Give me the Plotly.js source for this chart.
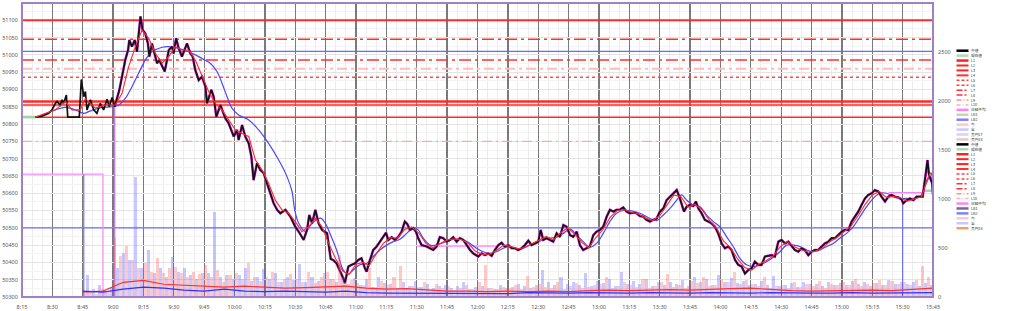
<!DOCTYPE html>
<html><head><meta charset="utf-8">
<script src="https://cdn.plot.ly/plotly-3.0.1.min.js"></script>
<style>html,body{margin:0;padding:0;background:#fff}#chart{width:1024px;height:311px}</style>
</head><body><div id="chart"></div>
<script>
// ---------- DATA ----------
const tickLabels = ["8:15","8:30","8:45","9:00","9:15","9:30","9:45","10:00","10:15","10:30","10:45","11:00","11:15","11:30","11:45","12:00","12:15","12:30","12:45","13:00","13:15","13:30","13:45","14:00","14:15","14:30","14:45","15:00","15:15","15:30","15:45"];
const priceTicks = [50300,50350,50400,50450,50500,50550,50600,50650,50700,50750,50800,50850,50900,50950,51000,51050,51100,51150];
const volumeTicks = [0,500,1000,1500,2000,2500,3000];

// minutes after 8:15
const priceMin = [6.6,9.9,13.2,14.8,16.5,17.3,18.9,19.8,20.6,21.4,21.9,22.6,28.3,29.3,30.5,31.3,32.1,33.8,35.4,37.0,38.7,40.3,42.0,43.1,44.5,45.8,46.9,48.1,49.4,50.2,51.0,52.4,53.0,54.3,55.7,56.8,57.6,58.5,59.6,60.9,62.2,62.9,64.2,65.5,66.7,67.8,69.2,70.5,71.6,72.5,74.1,74.9,76.1,77.4,79.0,81.5,83.2,84.3,85.6,87.3,88.9,90.6,91.4,93.5,94.7,96.0,98.0,98.8,100.4,102.1,104.6,106.2,107.0,108.7,110.3,112.0,113.3,114.4,116.1,117.7,119.4,121.0,122.7,124.3,126.0,127.6,130.1,132.6,135.0,136.7,139.1,140.8,141.9,143.3,144.9,146.5,148.2,150.7,152.5,153.7,155.4,157.0,158.7,159.5,160.3,161.2,162.8,164.4,166.1,167.7,169.4,170.2,171.9,173.5,175.2,176.8,178.4,179.8,180.9,182.6,184.2,185.9,187.5,189.1,190.3,191.6,193.3,194.6,195.7,197.4,199.9,201.5,203.1,204.8,206.4,208.1,209.7,211.4,213.0,214.7,216.3,218.0,219.6,221.3,222.9,225.4,227.0,228.7,230.3,232.0,233.6,235.3,236.9,238.5,240.2,241.8,243.5,245.1,246.8,248.4,250.1,251.7,253.4,255.0,256.2,257.5,259.1,260.8,262.4,264.1,265.7,267.4,269.0,270.7,272.3,274.0,275.6,277.2,278.9,280.5,282.2,283.8,285.5,287.1,288.8,290.4,292.1,293.7,295.4,297.0,298.6,300.3,301.9,303.6,305.2,306.9,308.5,310.2,311.8,313.5,315.1,316.8,318.4,320.1,321.7,323.4,324.7,325.8,327.0,328.3,329.9,331.6,332.9,334.1,335.7,337.3,339.0,340.6,342.3,343.9,345.6,347.2,348.9,350.5,352.2,353.8,355.5,357.1,358.8,360.4,362.0,363.7,365.3,367.0,368.6,370.3,371.9,373.6,375.2,376.9,378.5,380.2,381.8,383.5,385.1,386.7,388.4,390.0,391.7,393.3,395.0,396.6,398.3,399.9,401.6,403.2,404.9,406.5,408.2,409.8,411.4,413.1,414.7,416.4,418.0,419.7,421.3,423.0,424.6,426.3,427.9,429.6,431.2,432.9,434.5,435.3,437.0,438.6,440.3,441.9,443.6,444.9,446.0,447.3,448.0,448.8,449.6,450];
const priceVal = [50820,50823,50831,50841,50860,50865,50855,50870,50860,50872,50884,50820,50820,50929,50879,50894,50841,50870,50841,50831,50860,50841,50872,50850,50877,50850,50874,50899,50937,50961,50985,51014,51043,51024,51043,51009,51058,51111,51072,51062,51033,50995,51033,51005,50976,50985,50966,50952,50985,51014,51024,51004,51048,51019,50995,51033,51004,50995,50956,50927,50937,50908,50860,50899,50879,50821,50855,50841,50817,50802,50764,50783,50754,50797,50764,50744,50706,50638,50687,50667,50658,50629,50600,50571,50552,50542,50552,50532,50503,50489,50465,50494,50537,50513,50552,50513,50494,50484,50410,50407,50397,50378,50354,50340,50359,50388,50393,50397,50407,50412,50383,50373,50407,50436,50446,50460,50474,50486,50465,50473,50465,50474,50489,50518,50511,50494,50499,50489,50470,50450,50446,50441,50436,50446,50473,50470,50460,50465,50473,50460,50470,50465,50450,50436,50426,50417,50426,50421,50426,50419,50436,50450,50457,50446,50450,50441,50441,50436,50441,50450,50463,50450,50455,50460,50494,50465,50470,50465,50460,50484,50474,50508,50503,50479,50474,50489,50450,50436,50441,50446,50479,50489,50494,50503,50532,50552,50547,50552,50553,50559,50547,50542,50544,50542,50534,50532,50523,50518,50523,50527,50547,50556,50580,50590,50600,50609,50590,50571,50547,50561,50566,50563,50576,50556,50542,50523,50518,50513,50503,50484,50455,50441,50446,50436,50407,50393,50388,50368,50378,50383,50402,50393,50393,50417,50419,50421,50417,50460,50465,50455,50460,50446,50436,50431,50441,50436,50421,50431,50436,50436,50446,50455,50460,50470,50470,50479,50489,50494,50494,50518,50532,50547,50566,50585,50595,50600,50609,50605,50590,50576,50590,50595,50590,50588,50582,50571,50580,50585,50580,50590,50590,50590,50638,50696,50653,50643,50629,50595];

// short moving average (red)
const maShortMin = [6.6,16.5,21.4,24.7,28.8,31.3,36.2,41.2,46.1,49.4,52.7,56.0,59.3,62.6,65.9,69.2,72.5,75.7,79.0,82.3,85.6,88.9,92.2,95.5,98.8,102.1,105.4,108.7,112.0,115.3,118.6,121.8,125.1,128.4,131.7,135.0,138.3,141.6,144.9,148.2,151.5,155,158.5,161.5,165,168.5,171.5,175,178.5,182,185.5,189,192.5,196,199.5,203,206.5,210,213.5,217,220.5,224,227.5,231,234.5,238,241.5,245,248.5,252,255.5,259,262.5,266,269.5,273,276.5,280,283.5,287,290.5,294,297.5,301,304.5,308,311.5,315,318.5,322,325.5,329,332.5,336,339.5,343,346.5,350,353.5,357,360.5,364,367.5,371,374.5,378,381.5,385,388.5,392,395.5,399,402.5,406,409.5,413,416.5,420,423.5,427,430.5,434,437.5,441,444.5,447,449,450];
const maShortVal = [50820,50841,50865,50841,50841,50874,50846,50855,50855,50889,50966,51024,51072,51048,51004,50976,50995,51024,51014,51014,50985,50937,50894,50860,50841,50812,50783,50773,50764,50696,50667,50629,50580,50552,50542,50518,50489,50503,50528,50503,50455,50410,50375,50365,50395,50400,50390,50425,50455,50472,50470,50495,50503,50485,50455,50442,50455,50465,50468,50466,50455,50432,50423,50424,50435,50450,50446,50439,50444,50455,50465,50475,50465,50485,50500,50482,50458,50442,50472,50495,50530,50550,50553,50545,50540,50528,50521,50535,50565,50595,50590,50560,50568,50552,50522,50500,50462,50442,50410,50385,50378,50395,50405,50418,50445,50460,50445,50436,50430,50433,50442,50460,50472,50488,50505,50535,50568,50595,50605,50588,50591,50586,50577,50584,50590,50640,50660,50640];

// long moving average (blue)
const maLongMin = [8.2,16.5,21.4,26.3,30.5,32.9,35.4,39.5,44.5,47.8,51.0,54.3,57.6,60.9,64.2,69.2,72.5,77.4,82.3,87.3,89.7,93.0,96.3,98.8,101.3,103.7,107.0,112.0,116.9,121.8,126.8,130.9,133.4,134.7,136.7,140.0,143.3,147.4,149.8,152.8,155.4,158.7,161.2,163.6,166.9,170.2,173.5,176.8,180.1,183.4,186.7,190.0,193.3,195.7,198.2,201.5,204.8,208.1,211.4,214.7,218.0,221.3,224.5,227.8,231.1,234.4,237.7,241.0,244.3,247.6,250.9,254.2,257.5,260.8,264.1,267.4,270.7,274.0,277.2,280.5,283.8,287.1,290.4,293.7,297.0,300.3,305.2,310.2,313.5,316.8,320.1,323.4,325.8,328.3,331.6,334.9,338.2,341.5,344.8,348.1,351.3,354.6,357.9,361.2,364.5,367.8,371.1,374.4,377.7,381.0,384.3,387.6,390.9,394.2,397.5,400.7,404.0,407.3,410.6,413.9,417.2,420.5,423.8,427.1,430.4,433.7,437.0,440.3,443.6,446.0,448.5,450];
const maLongVal = [50821,50841,50848,50841,50831,50836,50841,50848,50850,50855,50874,50908,50947,50985,51009,51022,51024,51019,51009,50995,50987,50976,50952,50918,50879,50846,50826,50812,50783,50744,50696,50648,50605,50552,50513,50489,50513,50528,50513,50474,50436,50378,50366,50378,50393,50397,50417,50436,50450,50460,50467,50484,50501,50494,50470,50450,50450,50457,50465,50467,50465,50455,50441,50431,50426,50431,50441,50446,50441,50441,50450,50455,50467,50470,50473,50484,50496,50479,50460,50444,50455,50484,50518,50542,50550,50550,50542,50527,50521,50537,50556,50580,50595,50580,50566,50561,50537,50518,50503,50474,50446,50412,50393,50388,50393,50402,50415,50431,50450,50450,50446,50436,50431,50436,50446,50455,50470,50484,50503,50532,50561,50585,50600,50600,50590,50585,50585,50585,50590,50619,50648,50633];

// horizontal levels
const levelNames = ["L1","L2","L3","L4","L5","L7","L8","L9","L10"];
const levelValues = [51100,50865,50855,50820,50935,51045,50985,50960,50750];
const bandValues = [51010,50500];

// other series segments (minutes, value)
const nikkeiLeadMin = [0,40,40];       const nikkeiLeadVal = [50655,50655,0];
const lbMarkMin = [30.5,30.5,null,435,435]; const lbMarkVal = [50655,0,null,50580,0];
const nowMin = [195.3,234.5,null,428,445.2]; const nowVal = [50447,50447,null,50602,50602];
const currentMin = [0,6.6,null,445,450];     const currentVal = [50820,50820,null,50607,50607];
const nikkeiStartMin = 45.3;

// volume (every 3 minutes from 8:45)
const volStartMin = 30, volStepMin = 3;
const volSell = [40,60,30,80,50, 600,420,520,380,300, 350,260,400,250,300, 310,250,200,260,230, 330,200,280,150,220, 250,180,350,200,160, 200,260,150,180,230, 180,150,260,140,200, 260,180,430,150,170, 140,120,300,100,160, 120,200,320,90,110, 100,150,80,130,90, 110,70,90,120,80, 150,330,90,80,100, 90,120,80,210,100, 130,100,90,150,80, 110,140,90,100,120, 130,200,90,110,150, 120,100,180,90,110, 150,230,100,120,90, 160,140,200,110,120, 180,150,260,130,170, 130,110,200,90,110, 120,90,150,100,130, 110,160,90,130,120, 150,120,180,110,130, 140,170,120,160,130, 150,120,170,320,200];
const volBuy = [220,80,120,60,90, 300,450,380,1224,300, 480,250,300,200,410, 260,300,220,180,240, 250,870,200,220,180, 220,300,160,200,290, 180,240,150,200,170, 340,150,200,160,240, 180,150,200,130,190, 120,180,100,200,140, 130,90,150,110,160, 100,130,90,110,120, 90,110,150,80,100, 110,90,80,120,90, 100,130,110,90,120, 280,150,120,200,130, 150,120,250,110,160, 140,180,110,260,130, 160,130,180,110,150, 120,150,130,170,110, 200,150,180,120,220, 150,190,140,160,120, 130,160,120,210,110, 120,140,100,150,130, 130,110,150,120,140, 120,160,130,150,110, 140,120,170,130,150, 130,150,110,140,120];
const volMaMin = [30,40,50,60,70,80,90,100,110,120,130,140,150,160,170,180,190,200,210,220,230,240,250,260,270,280,290,300,310,320,330,340,350,360,370,380,390,400,410,420,430,440,450];
const volMaSell = [50,60,150,170,130,120,110,100,110,100,90,95,100,110,90,80,85,70,60,60,55,60,55,60,55,65,70,65,70,75,70,80,85,90,75,65,60,65,70,70,65,75,90];
const volMaBuy = [60,50,80,100,90,70,60,80,60,55,60,55,50,60,45,40,40,35,35,40,35,35,45,40,40,45,40,40,45,40,40,45,40,40,45,40,40,40,45,40,40,40,45];

// legend
const legendNames = ["中値","現在値","L1","L2","L3","L4","L5","L6","L7","L8","L9","L10","日経平均","LB1","LB2","今","全","売円17","売円18",
                     "中値","現在値","L1","L2","L3","L4","L5","L6","L7","L8","L9","L10","日経平均","LB1","LB2","今","全","売円18"];

// ---------- STYLE ----------
const LEFT=22, RIGHT=933, TOP=3, BOTTOM=297, W=1024, H=311;
const levelStyle = {
  L1:{color:"#ff2a2a",width:2,dash:"solid"},
  L2:{color:"#ff2a2a",width:2.5,dash:"solid"},
  L3:{color:"#ff2a2a",width:1.5,dash:"solid"},
  L4:{color:"#ff2a2a",width:1.5,dash:"solid"},
  L5:{color:"#ff4a4a",width:1.5,dash:"3px,3px"},
  L7:{color:"#ff3030",width:1.5,dash:"12px,4px,3px,4px"},
  L8:{color:"#ff3030",width:1.5,dash:"12px,4px,3px,4px"},
  L9:{color:"#ffbcbc",width:2,dash:"10px,4px,3px,4px"},
  L10:{color:"#ffa8a8",width:1.2,dash:"10px,4px,2px,4px"}
};
const legendStyle = {
  "中値":["#000000",2.5,"solid"],"現在値":["#a8dcb8",2.5,"solid"],
  "L1":["#ff2020",2.5,"solid"],"L2":["#ff2020",2,"solid"],"L3":["#ff2020",2,"solid"],"L4":["#ff3030",2,"solid"],
  "L5":["#ff4040",1.5,"3px,2px"],"L6":["#ff4040",1.5,"3px,2px"],"L7":["#ff3030",1.5,"6px,2px,2px,2px"],"L8":["#ff3030",1.5,"6px,2px,2px,2px"],
  "L9":["#ff9090",1.5,"5px,2px,1px,2px"],"L10":["#ffb0b0",1.5,"4px,2px,1px,2px"],"日経平均":["#ff80ff",2.5,"solid"],
  "LB1":["#c0d8b0",2.5,"solid"],"LB2":["#8080ff",2.5,"solid"],"今":["#ffc8c8",2.5,"solid"],"全":["#c8c8ff",2.5,"solid"],
  "売円17":["#d4d4f0",2.5,"solid"],"売円18":["#e6c8c8",2.5,"solid"]
};

// ---------- BUILD ----------
const traces = [];
const full = [0,450];
levelNames.forEach((n,i)=>{
  traces.push({x:full,y:[levelValues[i],levelValues[i]],mode:"lines",line:levelStyle[n],hoverinfo:"skip",showlegend:false});
});
bandValues.forEach((v)=>{
  traces.push({x:full,y:[v,v],mode:"lines",line:{color:"#6a6aff",width:1.2},hoverinfo:"skip",showlegend:false});
});

// volume bars (right axis)
const volX = volSell.map((_,i)=>volStartMin+i*volStepMin);
traces.push({type:"bar",x:volX.map(v=>v+0.75),y:volSell,yaxis:"y2",marker:{color:"rgba(255,90,90,0.33)",line:{width:0}},width:1.5,hoverinfo:"skip",showlegend:false});
traces.push({type:"bar",x:volX.map(v=>v+2.25),y:volBuy,yaxis:"y2",marker:{color:"rgba(90,90,255,0.33)",line:{width:0}},width:1.5,hoverinfo:"skip",showlegend:false});
traces.push({x:volMaMin,y:volMaSell,yaxis:"y2",mode:"lines",line:{color:"#ff3030",width:1.2},hoverinfo:"skip",showlegend:false});
traces.push({x:volMaMin,y:volMaBuy,yaxis:"y2",mode:"lines",line:{color:"#3030ff",width:1.2},hoverinfo:"skip",showlegend:false});

// misc series
traces.push({x:currentMin,y:currentVal,mode:"lines",line:{color:"#9fd4a8",width:2.5},connectgaps:false,hoverinfo:"skip",showlegend:false});
traces.push({x:nikkeiLeadMin,y:nikkeiLeadVal,mode:"lines",line:{color:"#ff88ff",width:1.2},hoverinfo:"skip",showlegend:false});
traces.push({x:lbMarkMin,y:lbMarkVal,mode:"lines",line:{color:"#7070ff",width:1.2},connectgaps:false,hoverinfo:"skip",showlegend:false});
traces.push({x:nowMin,y:nowVal,mode:"lines",line:{color:"#ff80ff",width:1.2},connectgaps:false,hoverinfo:"skip",showlegend:false});

// price stack
const nkX=[], nkY=[];
priceMin.forEach((m,i)=>{ if(m>=nikkeiStartMin){nkX.push(m);nkY.push(priceVal[i]);} });
traces.push({x:[nkX[0],nkX[0]],y:[0,nkY[0]],mode:"lines",line:{color:"#c070e0",width:1.2},hoverinfo:"skip",showlegend:false});
traces.push({x:maLongMin,y:maLongVal,mode:"lines",line:{color:"#4848ff",width:1.2,shape:"spline"},hoverinfo:"skip",showlegend:false});
traces.push({x:nkX,y:nkY,mode:"lines",line:{color:"#e030e0",width:2.6},hoverinfo:"skip",showlegend:false});
traces.push({x:priceMin,y:priceVal,mode:"lines",line:{color:"#111111",width:1.7},hoverinfo:"skip",showlegend:false});
traces.push({x:maShortMin,y:maShortVal,mode:"lines",line:{color:"#ff2a2a",width:1.1},hoverinfo:"skip",showlegend:false});

// legend (custom compact)
const pxX = p => (p-LEFT)/(RIGHT-LEFT);
const pxY = p => (BOTTOM-p)/(BOTTOM-TOP);
const shapes = [], annotations = [];
legendNames.forEach((n,i)=>{
  const y = 50.7 + i*4.93;
  const st = legendStyle[n];
  let col = st[0];
  if(i>18 && n==="LB1") col = "#786896";
  if(i>18 && n==="売円18") col = "#f0a060";
  shapes.push({type:"line",xref:"paper",yref:"paper",x0:pxX(956.5),x1:pxX(968.5),y0:pxY(y),y1:pxY(y),line:{color:col,width:st[1],dash:st[2]}});
  annotations.push({xref:"paper",yref:"paper",x:pxX(970),y:pxY(y),text:n,showarrow:false,xanchor:"left",yanchor:"middle",borderpad:0,
                    font:{size:3.7,color:"#333",family:"Noto Sans CJK JP"}});
});
shapes.push({type:"rect",xref:"paper",yref:"paper",x0:0,x1:1,y0:0,y1:1,line:{color:"#a080c8",width:2},layer:"above"});

const layout = {
  width:W,height:H,
  margin:{l:LEFT,r:W-RIGHT,t:TOP,b:H-BOTTOM,pad:0},
  paper_bgcolor:"#fff",plot_bgcolor:"#fff",
  showlegend:false,bargap:0,barmode:"overlay",
  font:{family:"Noto Sans",size:5.5,color:"#555"},
  xaxis:{range:[0,450],tickvals:tickLabels.map((_,i)=>i*15),ticktext:tickLabels,showgrid:true,gridcolor:"#7a7a7a",gridwidth:1.3,
         minor:{dtick:5,showgrid:true,gridcolor:"#ececec",gridwidth:1,tick0:0},zeroline:false,
         ticks:"outside",ticklen:4,tickcolor:"rgba(0,0,0,0)",tickfont:{size:5.5,color:"#555"},showline:false},
  yaxis:{range:[50300,51150],tickvals:priceTicks,ticktext:priceTicks.map(String),showgrid:true,gridcolor:"#e4e4e4",gridwidth:1,zeroline:false,
         ticks:"outside",ticklen:2,tickcolor:"rgba(0,0,0,0)",tickfont:{size:5.5,color:"#555"},minor:{dtick:25,showgrid:true,gridcolor:"#f4f4f4"}},
  yaxis2:{range:[0,3000],tickvals:volumeTicks,ticktext:volumeTicks.map(String),overlaying:"y",side:"right",showgrid:false,zeroline:false,
          ticks:"outside",ticklen:3,tickcolor:"rgba(0,0,0,0)",tickfont:{size:5.5,color:"#555"}},
  shapes:shapes,annotations:annotations
};
Plotly.newPlot("chart",traces,layout,{staticPlot:true,displayModeBar:false});
</script></body></html>
